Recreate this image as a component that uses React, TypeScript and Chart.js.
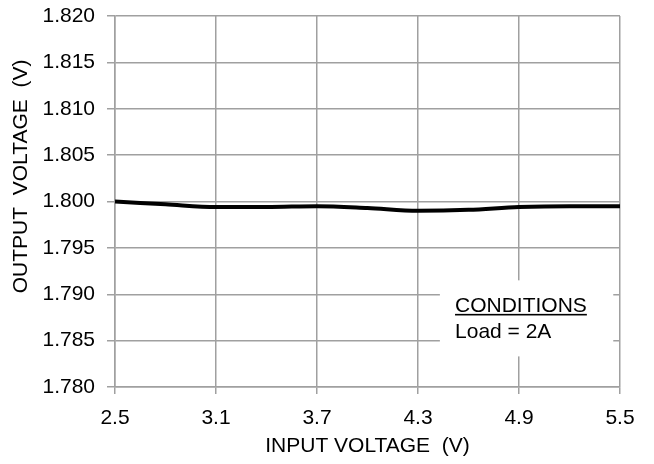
import React, { useEffect, useRef } from "react";
import { Chart, registerables } from "chart.js";

Chart.register(...registerables);

const inputVoltage = [2.5, 2.8, 3.1, 3.4, 3.7, 4.0, 4.3, 4.6, 4.9, 5.2, 5.5];
const outputVoltage = [1.8, 1.7997, 1.7994, 1.7994, 1.7995, 1.7993, 1.799, 1.7991, 1.7994, 1.7995, 1.7995];
const xTicks = [2.5, 3.1, 3.7, 4.3, 4.9, 5.5];
const yTicks = [1.78, 1.785, 1.79, 1.795, 1.8, 1.805, 1.81, 1.815, 1.82];
const xTitle = "INPUT VOLTAGE  (V)";
const yTitle = "OUTPUT  VOLTAGE  (V)";
const noteTitle = "CONDITIONS";
const noteLine = "Load = 2A";

const FONT = "'Liberation Sans', Arial, sans-serif";
const FS = 21;

const notePlugin = {
  id: "note",
  afterDraw(chart: any) {
    const { ctx, scales } = chart;
    const xs = scales.x;
    const ys = scales.y;
    ctx.save();
    // y-axis title
    ctx.fillStyle = "#000000";
    ctx.font = `${FS}px ${FONT}`;
    ctx.translate(21, ys.getPixelForValue(1.8027));
    ctx.rotate(-Math.PI / 2);
    ctx.textAlign = "center";
    ctx.textBaseline = "middle";
    ctx.fillText(yTitle, 0, 0);
    ctx.restore();

    ctx.save();
    const x0 = xs.getPixelForValue(4.43);
    const x1 = xs.getPixelForValue(5.46);
    const y0 = ys.getPixelForValue(1.7915);
    const y1 = ys.getPixelForValue(1.7833);
    ctx.fillStyle = "#ffffff";
    ctx.fillRect(x0, y0, x1 - x0, y1 - y0);
    ctx.fillStyle = "#000000";
    ctx.font = `${FS}px ${FONT}`;
    ctx.textBaseline = "alphabetic";
    ctx.textAlign = "left";
    const tx = xs.getPixelForValue(4.52);
    const ty = ys.getPixelForValue(1.7881);
    ctx.fillText(noteTitle, tx, ty);
    const w = ctx.measureText(noteTitle).width;
    ctx.fillRect(tx, ty + 2, w, 1.6);
    ctx.fillText(noteLine, tx, ty + 26);
    ctx.restore();
  },
};

export default function App() {
  const ref = useRef<HTMLCanvasElement>(null);
  useEffect(() => {
    document.body.style.margin = "0";
    const chart = new Chart(ref.current!, {
      type: "line",
      data: {
        datasets: [
          {
            data: inputVoltage.map((x, i) => ({ x, y: outputVoltage[i] })),
            borderColor: "#000000",
            borderWidth: 4,
            pointRadius: 0,
            tension: 0.4,
            cubicInterpolationMode: "monotone",
            fill: false,
          },
        ],
      },
      options: {
        animation: false,
        responsive: false,
        devicePixelRatio: 1,
        layout: { padding: { top: 16, right: 34, left: 0, bottom: 0 } },
        plugins: { legend: { display: false }, tooltip: { enabled: false } },
        scales: {
          x: {
            type: "linear",
            min: 2.5,
            max: 5.5,
            afterBuildTicks: (s: any) => {
              s.ticks = xTicks.map((v) => ({ value: v }));
            },
            afterFit: (s: any) => {
              s.height = 77;
              s.paddingLeft = 0;
              s.paddingRight = 0;
            },
            ticks: {
              color: "#000",
              font: { family: FONT, size: FS },
              padding: 12,
              maxRotation: 0,
              callback: (v: any) => Number(v).toFixed(1),
            },
            grid: { color: "#a0a0a0", lineWidth: 1.5, tickLength: 7 },
            border: { color: "#a0a0a0", width: 1.5 },
            title: {
              display: true,
              text: xTitle,
              color: "#000",
              font: { family: FONT, size: FS },
              padding: { top: 4, bottom: 5 },
            },
          },
          y: {
            type: "linear",
            min: 1.78,
            max: 1.82,
            afterBuildTicks: (s: any) => {
              s.ticks = yTicks.map((v) => ({ value: v }));
            },
            afterFit: (s: any) => {
              s.width = 115;
              s.paddingTop = 0;
              s.paddingBottom = 0;
            },
            ticks: {
              color: "#000",
              font: { family: FONT, size: FS },
              padding: 12,
              callback: (v: any) => Number(v).toFixed(3),
            },
            grid: { color: "#a0a0a0", lineWidth: 1.5, tickLength: 8 },
            border: { color: "#a0a0a0", width: 1.5 },
            title: { display: false },
          },
        },
      } as any,
      plugins: [notePlugin],
    });
    return () => chart.destroy();
  }, []);
  return (
    <div style={{ width: 654, height: 464 }}>
      <canvas ref={ref} width={654} height={464} style={{ display: "block" }} />
    </div>
  );
}
